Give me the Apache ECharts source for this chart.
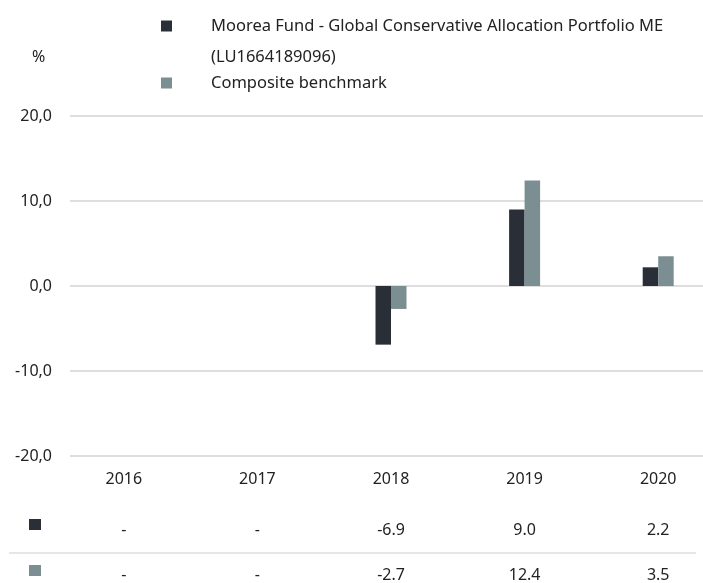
<!DOCTYPE html>
<html>
<head>
<meta charset="utf-8">
<script src="https://cdn.jsdelivr.net/npm/echarts@6/dist/echarts.min.js"></script>
<style>
  html, body { margin: 0; padding: 0; background: #fff; }
  #chart { width: 703px; height: 583px; }
</style>
</head>
<body>
<div id="chart"></div>
<script>
var years = ['2016', '2017', '2018', '2019', '2020'];
var fund = [null, null, -6.9, 9.0, 2.2];
var bench = [null, null, -2.7, 12.4, 3.5];
var yTicks = [-20, -10, 0, 10, 20];
var fundName = 'Moorea Fund - Global Conservative Allocation Portfolio ME';
var fundIsin = '(LU1664189096)';
var benchName = 'Composite benchmark';

var darkColor = '#2a2e36';
var greyColor = '#7b8f93';
var textColor = '#222222';
var font = 'Noto Sans';

// valeurs du tableau sous le graphique
function tableRow(arr) {
  return arr.map(function (v) { return v == null ? '-' : v.toFixed(1); });
}

var chart = echarts.init(document.getElementById('chart'));

var option = {
  animation: false,
  textStyle: { fontFamily: font },
  legend: {
    orient: 'vertical',
    left: 161,
    top: 16,
    padding: 0,
    itemWidth: 11,
    itemHeight: 11,
    itemGap: 37,
    selectedMode: false,
    icon: 'rect',
    textStyle: { fontSize: 16.5, color: textColor, fontFamily: font, padding: [0, 0, 0, 34], lineHeight: 20 },
    data: [fundName, benchName]
  },
  grid: [
    { left: 57, width: 668, top: 116, bottom: 127, outerBoundsMode: 'none' },
    { left: 70, right: 0, top: 116, bottom: 127, outerBoundsMode: 'none' }
  ],
  xAxis: [
    {
      type: 'category', gridIndex: 0, data: years,
      axisLine: { show: false }, axisTick: { show: false },
      axisLabel: { color: textColor, fontSize: 16, fontFamily: font, margin: 23, verticalAlign: 'middle' }
    },
    {
      type: 'category', gridIndex: 0, data: tableRow(fund), position: 'bottom',
      axisLine: { show: false }, axisTick: { show: false },
      axisLabel: { color: textColor, fontSize: 16, fontFamily: font, margin: 74, verticalAlign: 'middle' }
    },
    {
      type: 'category', gridIndex: 0, data: tableRow(bench), position: 'bottom',
      axisLine: { show: false }, axisTick: { show: false },
      axisLabel: { color: textColor, fontSize: 16, fontFamily: font, margin: 119, verticalAlign: 'middle' }
    },
    { type: 'value', gridIndex: 1, show: false, min: 0, max: 1 }
  ],
  yAxis: [
    { type: 'value', gridIndex: 0, show: false, min: yTicks[0], max: yTicks[yTicks.length - 1], interval: 10 },
    {
      type: 'value', gridIndex: 1,
      min: yTicks[0], max: yTicks[yTicks.length - 1], interval: 10,
      axisLine: { show: false }, axisTick: { show: false },
      axisLabel: {
        color: textColor, fontSize: 16, fontFamily: font, margin: 18,
        formatter: function (v) { return v.toFixed(1).replace('.', ','); }
      },
      splitLine: { lineStyle: { color: '#dedede', width: 2 } }
    }
  ],
  series: [
    {
      name: fundName, type: 'bar', xAxisIndex: 0, yAxisIndex: 0,
      data: fund, barWidth: 15.5, barGap: '0%',
      itemStyle: { color: darkColor }
    },
    {
      name: benchName, type: 'bar', xAxisIndex: 0, yAxisIndex: 0,
      data: bench, barWidth: 15.5, barGap: '0%',
      itemStyle: { color: greyColor }
    }
  ],
  graphic: [
    { type: 'text', left: 32, top: 49, style: { text: '%', fontSize: 16, fontFamily: font, fill: textColor } },
    { type: 'text', left: 211, top: 49, style: { text: fundIsin, fontSize: 16.5, fontFamily: font, fill: textColor } },
    { type: 'rect', shape: { x: 29, y: 519, width: 12, height: 11 }, style: { fill: darkColor } },
    { type: 'rect', shape: { x: 29, y: 565, width: 12, height: 11 }, style: { fill: greyColor } },
    { type: 'line', shape: { x1: 9, y1: 553, x2: 696, y2: 553 }, style: { stroke: '#dedede', lineWidth: 1.5 } }
  ]
};

chart.setOption(option);
</script>
</body>
</html>
